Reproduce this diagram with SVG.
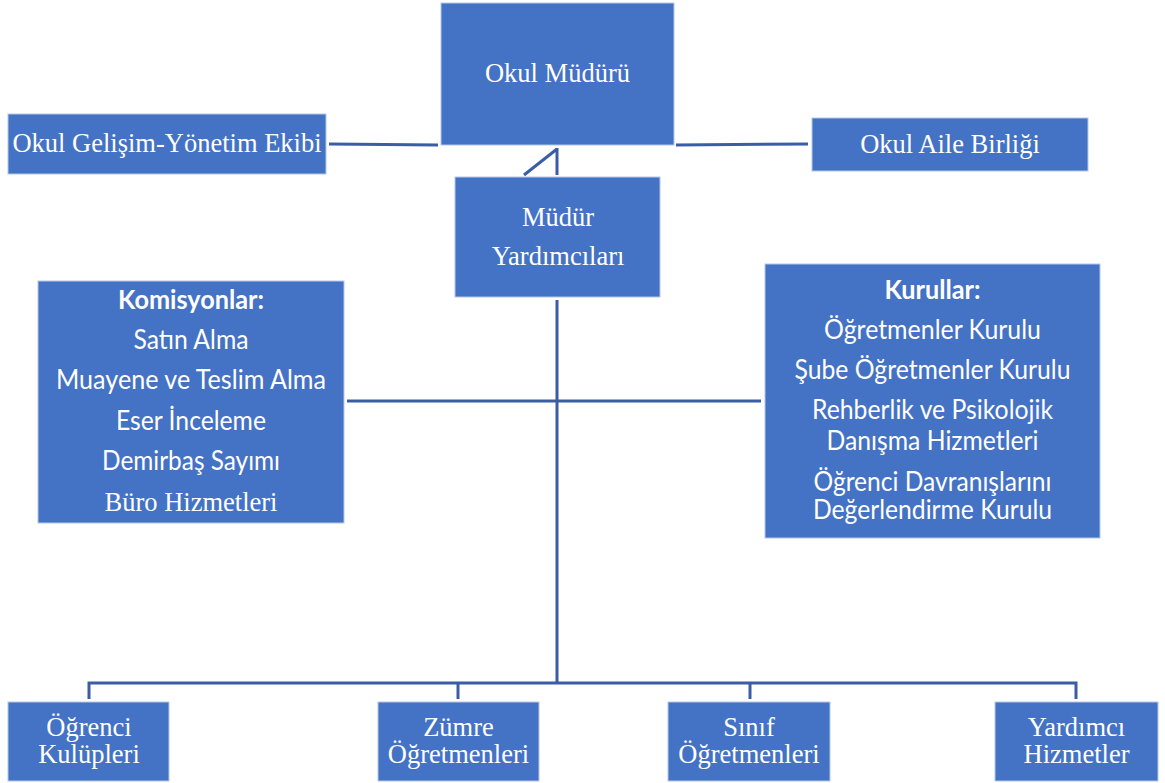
<svg xmlns="http://www.w3.org/2000/svg" width="1165" height="783" viewBox="0 0 1165 783">
<style>
.box{fill:#4472C4;stroke:#B4C7E7;stroke-width:1}
.ser{font-family:"Liberation Serif","Times New Roman",serif;font-size:26.5px;fill:#FFFFFF;text-anchor:middle}
.san{font-family:Lato,"Liberation Sans",sans-serif;font-size:26px;fill:#FFFFFF;text-anchor:middle}
.b{font-weight:bold}
.ln{stroke:#3A5DA5;stroke-width:3;fill:none}
</style>
<rect width="1165" height="783" fill="#FFFFFF"/>
<g id="connectors">
<line class="ln" x1="329" y1="144" x2="438" y2="145"/>
<line class="ln" x1="676" y1="145" x2="808" y2="144"/>
<line class="ln" x1="557" y1="148" x2="557" y2="175"/>
<line class="ln" x1="557" y1="149" x2="524" y2="175"/>
<line class="ln" x1="557" y1="300" x2="557" y2="684"/>
<line class="ln" x1="347" y1="401" x2="761" y2="401"/>
<polyline class="ln" points="89,699 89,683 1076,683 1076,699"/>
<line class="ln" x1="458" y1="683" x2="458" y2="699"/>
<line class="ln" x1="750" y1="683" x2="750" y2="699"/>
</g>
<g id="okul-muduru">
<rect class="box" x="441" y="3" width="233" height="142"/>
<text class="ser" x="557.5" y="82">Okul Müdürü</text>
</g>
<g id="okul-gelisim">
<rect class="box" x="8" y="114" width="318" height="60"/>
<text class="ser" x="167" y="152">Okul Gelişim-Yönetim Ekibi</text>
</g>
<g id="okul-aile">
<rect class="box" x="812" y="118" width="276" height="53"/>
<text class="ser" x="950" y="153">Okul Aile Birliği</text>
</g>
<g id="mudur-yardimcilari">
<rect class="box" x="455" y="177" width="205" height="120"/>
<text class="ser" x="558" y="226">Müdür</text>
<text class="ser" x="558" y="265">Yardımcıları</text>
</g>
<g id="komisyonlar">
<rect class="box" x="38" y="281" width="306" height="242"/>
<text class="san b" x="191" y="309" textLength="146" lengthAdjust="spacingAndGlyphs">Komisyonlar:</text>
<text class="san" x="191" y="349" textLength="115" lengthAdjust="spacingAndGlyphs">Satın Alma</text>
<text class="san" x="191" y="389" textLength="270" lengthAdjust="spacingAndGlyphs">Muayene ve Teslim Alma</text>
<text class="san" x="191" y="430" textLength="150" lengthAdjust="spacingAndGlyphs">Eser İnceleme</text>
<text class="san" x="191" y="470" textLength="178" lengthAdjust="spacingAndGlyphs">Demirbaş Sayımı</text>
<text class="ser" x="191" y="511">Büro Hizmetleri</text>
</g>
<g id="kurullar">
<rect class="box" x="765" y="264" width="335" height="274"/>
<text class="san b" x="932.5" y="299" textLength="96" lengthAdjust="spacingAndGlyphs">Kurullar:</text>
<text class="san" x="932.5" y="339" textLength="217" lengthAdjust="spacingAndGlyphs">Öğretmenler Kurulu</text>
<text class="san" x="932.5" y="379" textLength="276" lengthAdjust="spacingAndGlyphs">Şube Öğretmenler Kurulu</text>
<text class="san" x="932.5" y="419" textLength="241" lengthAdjust="spacingAndGlyphs">Rehberlik ve Psikolojik</text>
<text class="san" x="932.5" y="450" textLength="212" lengthAdjust="spacingAndGlyphs">Danışma Hizmetleri</text>
<text class="san" x="932.5" y="491" textLength="238" lengthAdjust="spacingAndGlyphs">Öğrenci Davranışlarını</text>
<text class="san" x="932.5" y="519" textLength="239" lengthAdjust="spacingAndGlyphs">Değerlendirme Kurulu</text>
</g>
<g id="ogrenci-kulupleri">
<rect class="box" x="8" y="702" width="161" height="79"/>
<text class="ser" x="89" y="736">Öğrenci</text>
<text class="ser" x="89" y="763">Kulüpleri</text>
</g>
<g id="zumre-ogretmenleri">
<rect class="box" x="378" y="702" width="161" height="79"/>
<text class="ser" x="458.5" y="736">Zümre</text>
<text class="ser" x="458.5" y="763">Öğretmenleri</text>
</g>
<g id="sinif-ogretmenleri">
<rect class="box" x="668" y="702" width="162" height="79"/>
<text class="ser" x="749" y="736">Sınıf</text>
<text class="ser" x="749" y="763">Öğretmenleri</text>
</g>
<g id="yardimci-hizmetler">
<rect class="box" x="995" y="702" width="163" height="79"/>
<text class="ser" x="1076.5" y="736">Yardımcı</text>
<text class="ser" x="1076.5" y="763">Hizmetler</text>
</g>
</svg>
